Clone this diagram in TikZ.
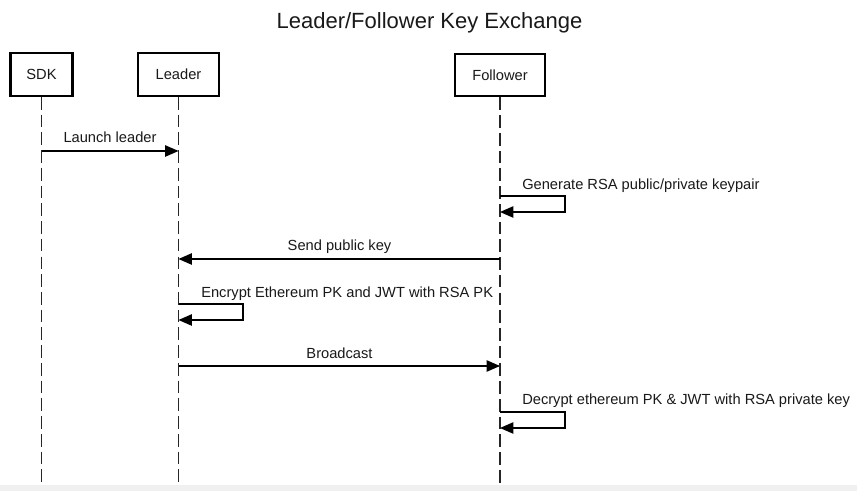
\documentclass[tikz,border=0pt]{standalone}
\usepackage{fontspec}
\setmainfont{Liberation Sans}
\usetikzlibrary{arrows.meta}
\begin{document}
\begin{tikzpicture}[x=0.75pt,y=-0.75pt,
  actor/.style={draw=black,line width=1.7pt,minimum height=32pt,inner sep=0pt,
    font=\fontsize{11}{13}\selectfont,text=black!90},
  life/.style={draw=black!85,line width=0.95pt,dash pattern=on 9.5pt off 3.8pt},
  msg/.style={draw=black,line width=0.95pt,-{Triangle[length=10pt,width=8.5pt]}},
  lbl/.style={font=\fontsize{11}{13}\selectfont,text=black!90,inner sep=0pt}]
\fill[white] (0,0) rectangle (857,491);
\fill[black!6] (0,485) rectangle (857,491);
\useasboundingbox (0,0) rectangle (857,491);

\node[font=\fontsize{16.5}{20}\selectfont,text=black!90,inner sep=0pt,anchor=base] (title) at (429.5,29) {Leader/Follower Key Exchange};

\node[actor,minimum width=46.5pt] (sdk) at (41.5,74.5) {SDK};
\node[actor,minimum width=61pt] (leader) at (178.5,74.5) {Leader};
\node[actor,minimum width=67.5pt] (follower) at (500,75) {Follower};

\coordinate (sdkEnd) at (41.5,485);
\coordinate (leaderEnd) at (178.5,485);
\coordinate (followerEnd) at (500,485);
\draw[life] (sdk.south) -- (sdkEnd);
\draw[life] (leader.south) -- (leaderEnd);
\draw[life] (follower.south) -- (followerEnd);

% Launch leader
\coordinate (m1s) at (41.5,151);
\coordinate (m1e) at (178.5,151);
\draw[msg] (m1s) -- (m1e);
\node[lbl,anchor=base] (l1) at (110,143) {Launch leader};

% Generate keypair (self)
\coordinate (m2s) at (500,196);
\coordinate (m2e) at (500,212);
\draw[msg] (m2s) -- ++(65,0) |- (m2e);
\node[lbl,anchor=base west] (l2) at (522,190) {Generate RSA public/private keypair};

% Send public key
\coordinate (m3s) at (500,259);
\coordinate (m3e) at (178.5,259);
\draw[msg] (m3s) -- (m3e);
\node[lbl,anchor=base] (l3) at (339.5,251) {Send public key};

% Encrypt (self)
\coordinate (m4s) at (178.5,304);
\coordinate (m4e) at (178.5,320);
\draw[msg] (m4s) -- ++(64.5,0) |- (m4e);
\node[lbl,anchor=base west] (l4) at (201,298) {Encrypt Ethereum PK and JWT with RSA PK};

% Broadcast
\coordinate (m5s) at (178.5,366);
\coordinate (m5e) at (500,366);
\draw[msg] (m5s) -- (m5e);
\node[lbl,anchor=base] (l5) at (339.5,359) {Broadcast};

% Decrypt (self)
\coordinate (m6s) at (500,412);
\coordinate (m6e) at (500,428);
\draw[msg] (m6s) -- ++(65,0) |- (m6e);
\node[lbl,anchor=base west] (l6) at (522,405) {Decrypt ethereum PK \& JWT with RSA private key};
\end{tikzpicture}
\end{document}
